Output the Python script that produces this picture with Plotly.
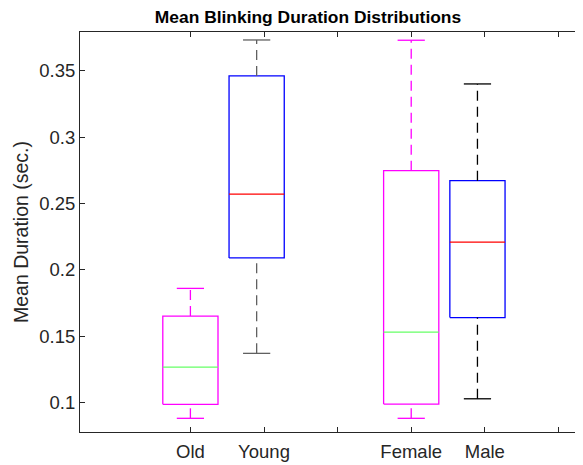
import plotly.graph_objects as go

# ---- data ----
groups = ["Old", "Young", "Female", "Male"]
positions = [1.0, 1.9, 4.0, 4.9]
q1 = [0.0988, 0.2090, 0.0990, 0.1641]
median = [0.1269, 0.2570, 0.1532, 0.2210]
q3 = [0.1653, 0.3460, 0.2747, 0.2672]
lower_whisker = [0.0883, 0.1372, 0.0883, 0.1030]
upper_whisker = [0.1861, 0.3731, 0.3729, 0.3400]

tick_positions = [1, 2, 3, 4, 5, 6]
tick_labels = ["Old", "Young", "", "Female", "Male", ""]

box_colors = ["#ff00ff", "#0000ff", "#ff00ff", "#0000ff"]
median_colors = ["#66ff66", "#ff0000", "#66ff66", "#ff0000"]
whisker_colors = ["#ff00ff", "#606060", "#ff00ff", "#000000"]

BOX_HALF = 0.375
CAP_HALF = 0.185

fig = go.Figure()
for i, g in enumerate(groups):
    c = positions[i]
    # box
    fig.add_trace(go.Scatter(
        x=[c - BOX_HALF, c + BOX_HALF, c + BOX_HALF, c - BOX_HALF, c - BOX_HALF],
        y=[q1[i], q1[i], q3[i], q3[i], q1[i]],
        mode="lines", line=dict(color=box_colors[i], width=1.3),
        showlegend=False, hoverinfo="skip"))
    # median
    fig.add_trace(go.Scatter(
        x=[c - BOX_HALF, c + BOX_HALF], y=[median[i], median[i]],
        mode="lines", line=dict(color=median_colors[i], width=1.3),
        showlegend=False, hoverinfo="skip"))
    # whiskers (dashed)
    fig.add_trace(go.Scatter(
        x=[c, c, None, c, c],
        y=[q3[i], upper_whisker[i], None, lower_whisker[i], q1[i]],
        mode="lines", line=dict(color=whisker_colors[i], width=1.3, dash="10px,6px"),
        showlegend=False, hoverinfo="skip"))
    # caps
    fig.add_trace(go.Scatter(
        x=[c - CAP_HALF, c + CAP_HALF, None, c - CAP_HALF, c + CAP_HALF],
        y=[upper_whisker[i], upper_whisker[i], None, lower_whisker[i], lower_whisker[i]],
        mode="lines", line=dict(color=whisker_colors[i], width=1.3),
        showlegend=False, hoverinfo="skip"))

axis_col = "#262626"
H = 457
W = 575
fig.update_layout(
    width=W, height=H,
    margin=dict(l=72, r=0, t=24, b=33),
    paper_bgcolor="white", plot_bgcolor="white",
    font=dict(family="Liberation Sans, Arial, sans-serif", color=axis_col, size=18.5),
    title=dict(text="<b>Mean Blinking Duration Distributions</b>",
               x=300 / W, xref="container", xanchor="center",
               y=1 - 9 / H, yref="container", yanchor="middle",
               font=dict(size=17.4, color="#000000")),
    xaxis=dict(range=[-0.5, 6.334], tickvals=tick_positions, ticktext=tick_labels,
               showgrid=False, zeroline=False, showline=True, linecolor=axis_col,
               linewidth=1, mirror="ticks", ticks="inside", ticklen=5,
               tickcolor=axis_col, tickfont=dict(size=18.5, color=axis_col),
               ticklabelstandoff=3),
    yaxis=dict(range=[0.078, 0.3791], tickvals=[0.1, 0.15, 0.2, 0.25, 0.3, 0.35],
               ticktext=["0.1", "0.15", "0.2", "0.25", "0.3", "0.35"],
               showgrid=False, zeroline=False, showline=True, linecolor=axis_col,
               linewidth=1, mirror="ticks", ticks="inside", ticklen=5,
               tickcolor=axis_col, tickfont=dict(size=18.5, color=axis_col),
               title=dict(text="Mean Duration (sec.)", standoff=5,
                          font=dict(size=19.5, color=axis_col))),
)

fig.write_html("out.html")
